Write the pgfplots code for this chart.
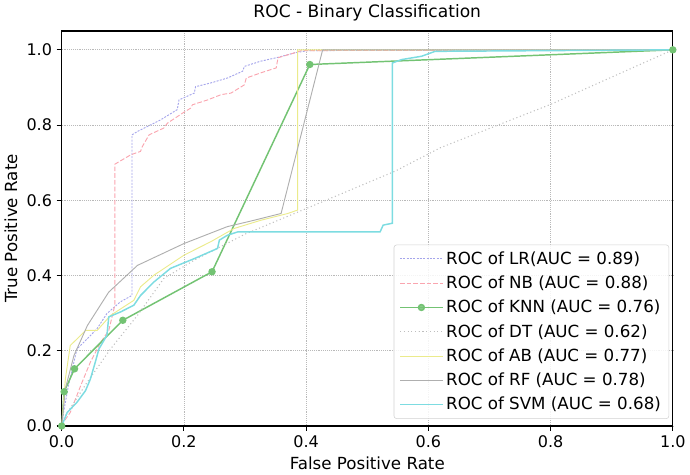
\documentclass[border=0pt]{standalone}
\usepackage{fontspec}
\setmainfont{DejaVu Sans}
\usepackage{pgfplots}
\pgfplotsset{compat=1.18}

\definecolor{lrcol}{RGB}{165,165,235}
\definecolor{nbcol}{RGB}{250,165,175}
\definecolor{knncol}{RGB}{115,195,115}
\definecolor{dtcol}{RGB}{190,190,190}
\definecolor{abcol}{RGB}{235,235,140}
\definecolor{rfcol}{RGB}{175,175,175}
\definecolor{svmcol}{RGB}{125,220,225}

\begin{document}
\begin{tikzpicture}
\begin{axis}[
  width=458pt, height=296pt,
  scale only axis,
  xmin=0, xmax=1, ymin=0, ymax=1.05,
  xtick={0,0.2,0.4,0.6,0.8,1},
  ytick={0,0.2,0.4,0.6,0.8,1},
  xticklabel style={/pgf/number format/.cd, fixed, fixed zerofill, precision=1},
  yticklabel style={/pgf/number format/.cd, fixed, fixed zerofill, precision=1},
  /pgf/number format/assume math mode=true,
  tick label style={font=\fontsize{12}{14}\selectfont},
  label style={font=\fontsize{12.5}{15}\selectfont},
  title style={font=\fontsize{12.8}{15}\selectfont, yshift=-2pt},
  title={ROC - Binary Classification},
  xlabel={False Positive Rate},
  ylabel={True Positive Rate},
  tick align=outside, tick pos=left,
  major tick length=3.75pt,
  axis line style={line width=0.9pt},
  every tick/.style={black, line width=0.8pt},
  grid=major,
  major grid style={densely dotted, gray!55, line width=0.6pt},
  legend style={at={(0.994,0.018)}, anchor=south east, draw=gray!35,
    rounded corners=2pt, fill=white, fill opacity=0.85, text opacity=1,
    font=\fontsize{12.5}{14}\selectfont, row sep=3.2pt, inner xsep=4pt, inner ysep=3pt},
  legend cell align=left,
  legend image code/.code={\draw[mark repeat=2,mark phase=2,#1] plot coordinates {(0pt,0pt) (16pt,0pt) (32pt,0pt)};},
]
% LR
\addplot[lrcol, line width=0.7pt, dash pattern=on 1.5pt off 1pt] coordinates {
(0,0) (0.003,0.036) (0.011,0.107) (0.025,0.205) (0.042,0.232) (0.058,0.259)
(0.074,0.299) (0.096,0.33) (0.115,0.347) (0.115,0.774) (0.124,0.783)
(0.146,0.801) (0.162,0.814) (0.189,0.841) (0.192,0.867) (0.217,0.885)
(0.219,0.902) (0.244,0.912) (0.271,0.925) (0.296,0.943) (0.299,0.956)
(0.326,0.970) (0.354,0.980) (0.381,0.992) (0.403,0.998) (1,1)};
\addlegendentry{ROC of LR(AUC = 0.89)}
% NB
\addplot[nbcol, line width=0.7pt, dash pattern=on 3.5pt off 1.5pt] coordinates {
(0,0) (0.003,0.01) (0.014,0.036) (0.031,0.107) (0.047,0.17) (0.064,0.223)
(0.077,0.254) (0.087,0.321) (0.087,0.696) (0.113,0.721) (0.129,0.730)
(0.132,0.743) (0.143,0.774) (0.167,0.792) (0.173,0.805) (0.198,0.832)
(0.211,0.845) (0.214,0.854) (0.239,0.867) (0.261,0.881) (0.277,0.885)
(0.299,0.907) (0.302,0.925) (0.326,0.939) (0.351,0.952) (0.354,0.979)
(0.381,0.992) (0.392,0.998) (1,1)};
\addlegendentry{ROC of NB (AUC = 0.88)}
% KNN
\addplot[knncol, line width=1.1pt, mark=*, mark size=2.2pt, mark options={solid, fill=knncol}] coordinates {
(0,0) (0.004,0.091) (0.021,0.152) (0.10,0.281) (0.246,0.41) (0.406,0.961) (1,1)};
\addlegendentry{ROC of KNN (AUC = 0.76)}
% DT
\addplot[dtcol, line width=0.8pt, dotted] coordinates {
(0,0) (0.006,0.027) (0.042,0.117) (0.08,0.205) (0.124,0.294) (0.167,0.392)
(0.217,0.441) (0.3,0.51) (0.381,0.565) (0.545,0.677) (0.62,0.74) (0.8,0.855) (1,1)};
\addlegendentry{ROC of DT (AUC = 0.62)}
% AB
\addplot[abcol, line width=0.7pt] coordinates {
(0,0) (0.006,0.125) (0.014,0.214) (0.028,0.236) (0.039,0.254) (0.058,0.254)
(0.080,0.294) (0.118,0.334) (0.129,0.370) (0.151,0.401) (0.2,0.454)
(0.244,0.49) (0.282,0.525) (0.326,0.547) (0.370,0.565) (0.386,0.574)
(0.386,1.0) (1,1)};
\addlegendentry{ROC of AB (AUC = 0.77)}
% RF
\addplot[rfcol, line width=0.7pt] coordinates {
(0,0) (0.006,0.099) (0.020,0.187) (0.042,0.267) (0.077,0.356) (0.124,0.427)
(0.2,0.485) (0.271,0.530) (0.315,0.547) (0.359,0.565) (0.427,1.0) (1,1)};
\addlegendentry{ROC of RF (AUC = 0.78)}
% SVM
\addplot[svmcol, line width=1.1pt] coordinates {
(0,0) (0.009,0.036) (0.025,0.063) (0.039,0.094) (0.047,0.125) (0.055,0.17)
(0.061,0.205) (0.074,0.241) (0.077,0.29) (0.096,0.303) (0.118,0.321)
(0.129,0.347) (0.151,0.383) (0.178,0.419) (0.217,0.445) (0.255,0.472)
(0.258,0.494) (0.271,0.507) (0.288,0.516) (0.521,0.516) (0.526,0.534)
(0.541,0.539) (0.541,0.965) (0.556,0.974) (0.589,0.983) (0.611,0.996) (1,1)};
\addlegendentry{ROC of SVM (AUC = 0.68)}
\end{axis}
\end{tikzpicture}
\end{document}
